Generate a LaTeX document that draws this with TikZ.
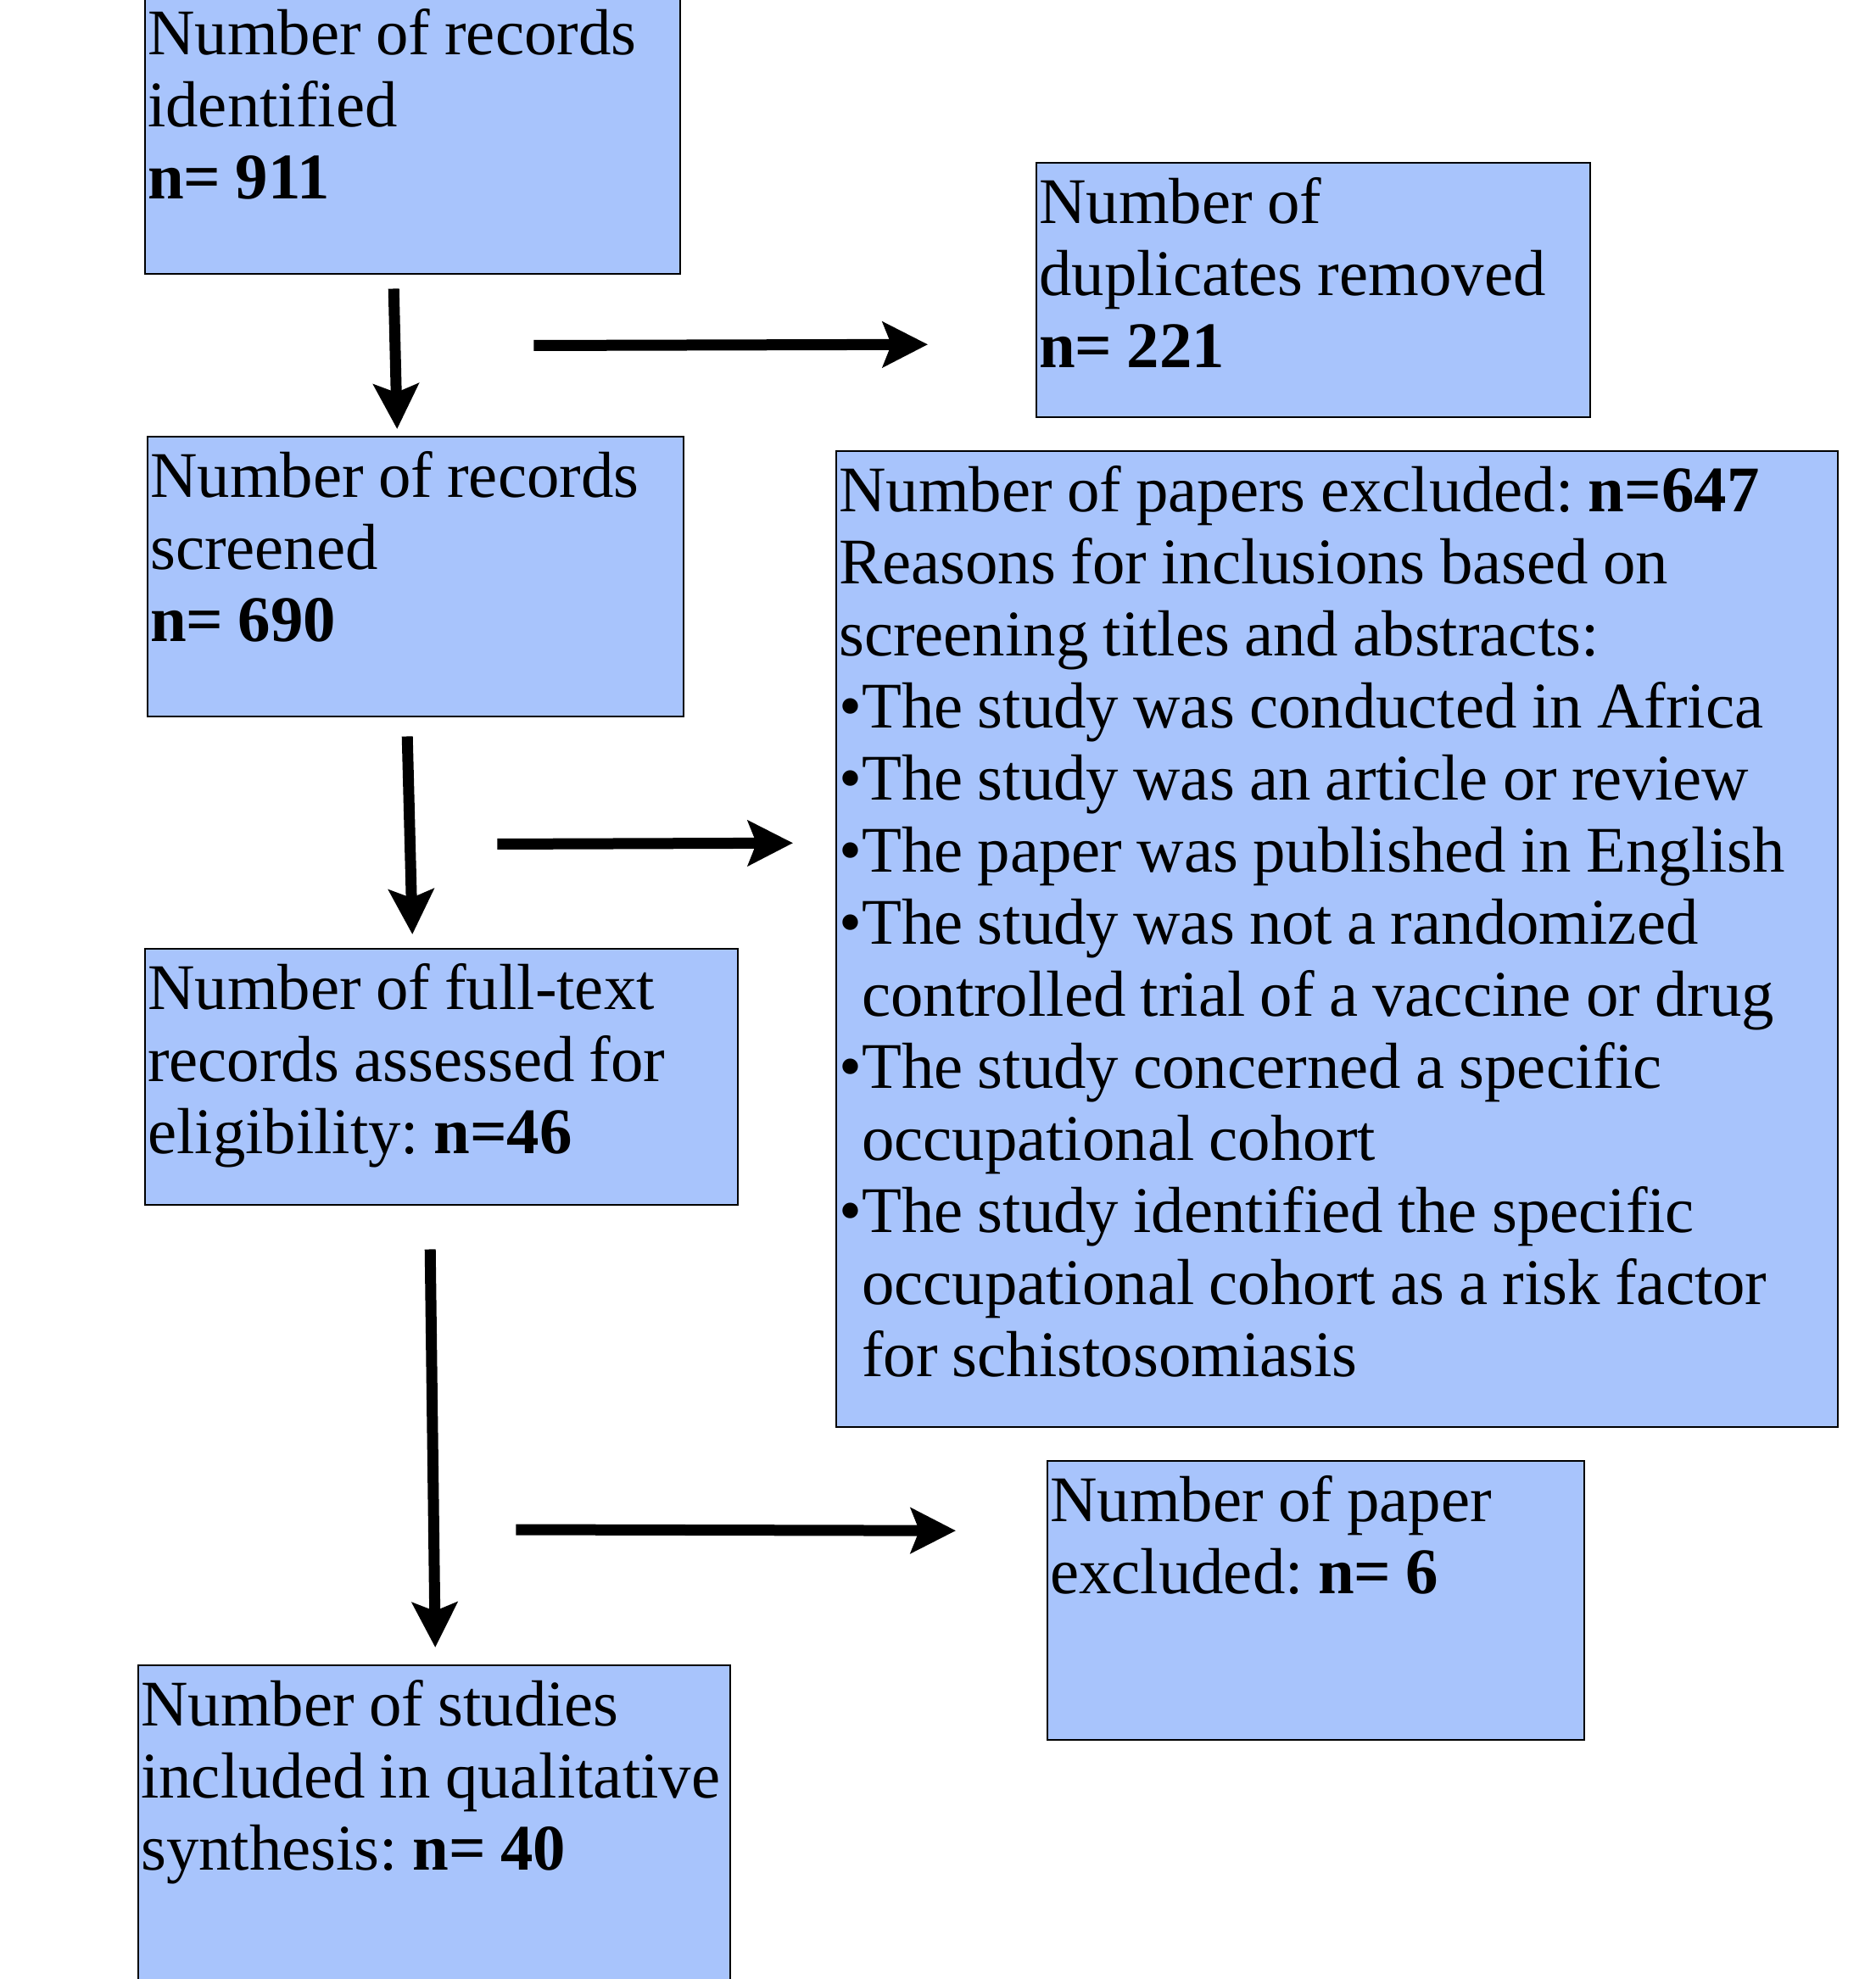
\documentclass[tikz,border=0pt]{standalone}
\usepackage{fontspec}
\setmainfont[WordSpace=0.9]{Liberation Serif}
\usetikzlibrary{arrows.meta, positioning}
\definecolor{boxblue}{RGB}{168,196,252}
\frenchspacing

\tikzset{
  stage/.style={draw=black, line width=0.7pt, fill=boxblue, anchor=north west, align=flush left,
    inner xsep=0.03cm, inner ysep=0pt, text height=0.71cm,
    font=\fontsize{21.85}{24.2}\selectfont},
  flow/.style={-{Stealth[length=0.53cm, width=0.53cm, inset=0.10cm]}, line width=0.13cm}
}

\begin{document}
\begin{tikzpicture}
  \clip (0,0) rectangle (22.12,-23.34);
  \fill[white] (0,0) rectangle (22.12,-23.34);

  % left column
  \node[stage, text width=6.25cm, text depth=2.59cm] (ident) at (1.70,0.08)
    {Number of records\\identified\\\textbf{n= 911}};
  \node[stage, text width=6.26cm, text depth=2.59cm] (screen) at (1.73,-5.14)
    {Number of records\\screened\\\textbf{n= 690}};
  \node[stage, text width=6.93cm, text depth=2.31cm] (full) at (1.70,-11.18)
    {Number of full-text\\records assessed for\\eligibility: \textbf{n=46}};
  \node[stage, text width=6.92cm, text depth=3.40cm] (incl) at (1.62,-19.63)
    {Number of studies\\included in qualitative\\synthesis: \textbf{n= 40}};

  % right column
  \node[stage, text width=6.47cm, text depth=2.29cm] (dupl) at (12.21,-1.91)
    {Number of\\duplicates removed\\\textbf{n= 221}};
  \node[stage, text width=11.75cm, text depth=10.80cm] (excl) at (9.85,-5.31)
    {Number of papers excluded: \textbf{n=647}\\
     Reasons for inclusions based on\\
     screening titles and abstracts:\\
     •The study was conducted in Africa\\
     •The study was an article or review\\
     •The paper was published in English\\
     •The study was not a randomized\\
     \phantom{•}controlled trial of a vaccine or drug\\
     •The study concerned a specific\\
     \phantom{•}occupational cohort\\
     •The study identified the specific\\
     \phantom{•}occupational cohort as a risk factor\\
     \phantom{•}for schistosomiasis};
  \node[stage, text width=6.27cm, text depth=2.58cm] (excl6) at (12.34,-17.22)
    {Number of paper\\excluded: \textbf{n= 6}};

  % downward flow
  \draw[flow] ([shift={(-0.225,-0.16)}]ident.south) -- ([shift={(-0.22,0.08)}]screen.north);
  \draw[flow] ([shift={(-0.10,-0.22)}]screen.south) -- ([shift={(-0.345,0.16)}]full.north);
  \draw[flow] ([shift={(-0.135,-0.51)}]full.south) -- ([shift={(0.01,0.20)}]incl.north);

  % sideways flow
  \draw[flow] ([shift={(-1.74,-0.83)}]ident.south east) -- ([shift={(-1.27,-0.64)}]dupl.west);
  \draw[flow] ([shift={(-2.21,-1.49)}]screen.south east) -- ([shift={(-0.50,1.135)}]excl.west);
  \draw[flow] ([shift={(-2.54,1.59)}]incl.north east) -- ([shift={(-1.07,0.825)}]excl6.west);
\end{tikzpicture}
\end{document}
